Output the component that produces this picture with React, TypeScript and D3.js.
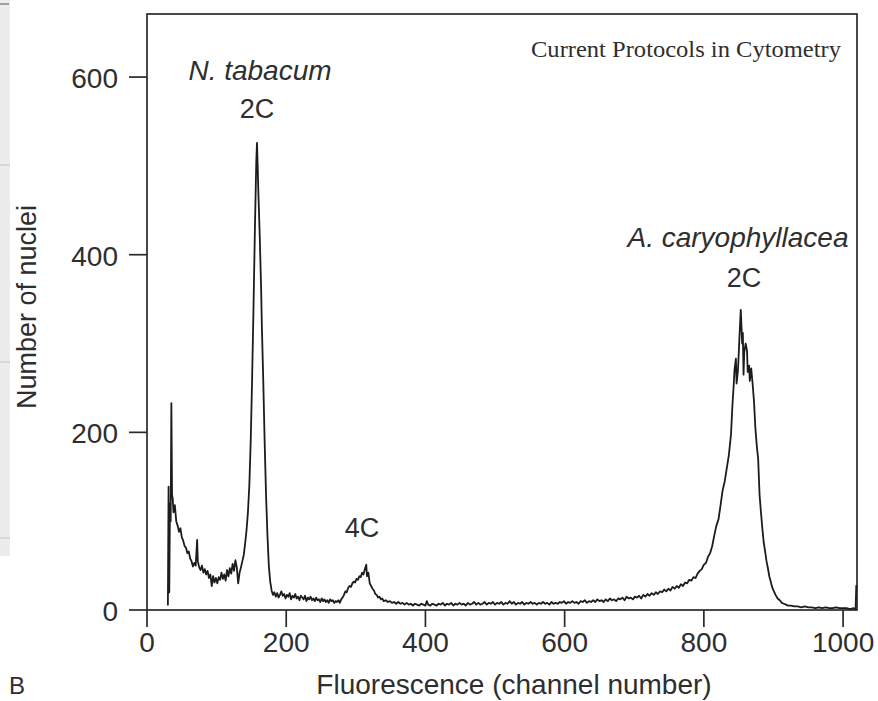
import React from "react";
import * as d3 from "d3";

// Histogram: channel number vs number of nuclei
const channels: number[] = [
  30, 31, 32, 33, 34, 35, 36, 37, 38, 40, 42, 44, 46, 48, 50, 52, 54, 56, 58, 60,
  62, 64, 66, 68, 70, 72, 73, 75, 77, 79, 81, 83, 85, 87, 89, 91, 93, 95, 97, 99,
  101, 103, 105, 107, 109, 111, 113, 115, 117, 119, 121, 123, 125, 127, 129, 131, 133, 135, 137, 139,
  141, 143, 145, 147, 149, 151, 153, 155, 157, 158, 159, 160, 162, 164, 165, 167, 169, 171, 173, 175,
  177, 179, 181, 183, 185, 187, 189, 191, 193, 195, 197, 199, 201, 203, 205, 207, 209, 211, 213, 215,
  217, 219, 221, 223, 225, 227, 229, 231, 233, 235, 237, 239, 241, 243, 245, 247, 249, 251, 253, 255,
  257, 259, 261, 263, 265, 267, 269, 271, 273, 275, 277, 279, 281, 283, 285, 287, 289, 291, 293, 295,
  297, 299, 301, 303, 305, 307, 309, 311, 313, 315, 316, 318, 320, 322, 324, 326, 328, 330, 332, 334,
  336, 338, 340, 343, 346, 349, 352, 355, 358, 361, 364, 367, 370, 373, 376, 379, 382, 385, 388, 391,
  394, 397, 400, 402, 404, 407, 410, 413, 416, 419, 422, 425, 428, 431, 434, 437, 440, 443, 446, 449,
  452, 455, 458, 461, 464, 467, 470, 473, 476, 479, 482, 485, 488, 491, 494, 497, 500, 503, 506, 509,
  512, 515, 518, 521, 524, 527, 530, 533, 536, 539, 542, 545, 548, 551, 554, 557, 560, 563, 566, 569,
  572, 575, 578, 581, 584, 587, 590, 593, 596, 599, 602, 605, 608, 611, 614, 617, 620, 623, 626, 629,
  632, 635, 638, 641, 644, 647, 650, 653, 656, 659, 662, 665, 668, 671, 674, 677, 680, 683, 686, 689,
  692, 695, 698, 701, 704, 707, 710, 713, 716, 719, 722, 725, 728, 731, 734, 737, 740, 743, 746, 749,
  752, 755, 758, 761, 764, 767, 770, 773, 776, 779, 782, 785, 788, 791, 794, 797, 800, 803, 806, 809,
  812, 815, 818, 821, 824, 827, 830, 833, 836, 839, 841, 843, 844, 846, 847, 849, 851, 853, 854, 855,
  856, 857, 858, 860, 862, 863, 865, 866, 868, 870, 872, 874, 876, 878, 880, 882, 884, 886, 888, 890,
  892, 894, 896, 898, 900, 903, 906, 909, 912, 915, 918, 921, 925, 930, 935, 940, 945, 950, 955, 960,
  965, 970, 975, 980, 985, 990, 995, 1000, 1005, 1010, 1015, 1018, 1019,
];

const counts: number[] = [
  5, 139, 20, 120, 100, 233, 130, 125, 110, 118, 100, 95, 88, 92, 82, 78, 72, 70, 64, 66,
  58, 55, 49, 53, 50, 79, 55, 48, 45, 50, 42, 46, 40, 44, 36, 40, 27, 38, 31, 36,
  30, 37, 34, 42, 35, 40, 33, 45, 38, 47, 41, 52, 44, 56, 48, 30, 42, 48, 55, 62,
  75, 90, 110, 140, 190, 260, 340, 428, 505, 526, 500, 470, 420, 360, 320, 259, 190, 130, 85, 50,
  32, 22, 17, 20, 15, 19, 14, 17, 21, 16, 18, 13, 17, 15, 19, 12, 16, 14, 18, 13,
  15, 11, 16, 14, 12, 16, 10, 14, 12, 15, 11, 13, 10, 14, 11, 12, 9, 13, 10, 12,
  9, 11, 8, 12, 10, 11, 8, 10, 9, 11, 8, 12, 14, 17, 21, 20, 25, 27, 26, 30,
  32, 31, 35, 34, 38, 37, 42, 40, 46, 51, 38, 42, 30, 27, 24, 22, 18, 17, 14, 15,
  12, 13, 10, 11, 9, 10, 8, 9, 7, 9, 7, 8, 6, 8, 6, 7, 5, 7, 6, 5,
  7, 6, 5, 10, 6, 5, 7, 6, 5, 7, 6, 8, 5, 7, 6, 8, 5, 7, 6, 8,
  6, 7, 5, 8, 6, 7, 9, 6, 8, 6, 7, 9, 6, 8, 7, 9, 6, 8, 7, 9,
  6, 8, 7, 10, 7, 9, 6, 8, 7, 9, 6, 8, 7, 9, 7, 8, 6, 8, 7, 9,
  7, 8, 6, 9, 7, 8, 7, 9, 8, 10, 7, 9, 8, 10, 8, 9, 7, 10, 9, 11,
  8, 10, 9, 11, 9, 12, 10, 11, 9, 12, 10, 13, 11, 12, 10, 13, 12, 14, 11, 15,
  13, 14, 12, 15, 14, 16, 13, 17, 15, 18, 16, 19, 17, 20, 18, 21, 20, 23, 21, 24,
  22, 26, 24, 27, 25, 29, 27, 31, 30, 34, 33, 37, 36, 41, 44, 46, 51, 53, 60, 64,
  72, 84, 95, 102, 118, 135, 145, 160, 175, 198, 230, 255, 270, 283, 255, 270, 305, 338, 320, 300,
  312, 265, 290, 300, 292, 268, 275, 258, 272, 255, 235, 205, 185, 170, 130, 110, 92, 76, 66, 55,
  47, 38, 32, 26, 22, 17, 13, 11, 8, 7, 6, 5, 5, 4, 4, 3, 4, 3, 3, 2,
  3, 2, 3, 2, 2, 3, 2, 2, 2, 1, 2, 1, 28,
];

const xTicks: number[] = [0, 200, 400, 600, 800, 1000];
const yTicks: number[] = [0, 200, 400, 600];

const xTitle = "Fluorescence (channel number)";
const yTitle = "Number of nuclei";

export default function App() {
  const W = 878;
  const H = 701;
  const left = 147, right = 857, top = 14, bottom = 610;

  const x = d3.scaleLinear().domain([0, 1020]).range([left, right]);
  const y = d3.scaleLinear().domain([0, 671]).range([bottom, top]);

  const pts: [number, number][] = channels.map((c, i) => [c, counts[i]]);
  const line = d3
    .line<[number, number]>()
    .x((d) => x(d[0]))
    .y((d) => y(d[1]));

  const font = "'Liberation Sans', Arial, Helvetica, sans-serif";
  const ink = "#2a2a2a";

  return (
    <svg
      width={W}
      height={H}
      viewBox={`0 0 ${W} ${H}`}
      style={{ position: "absolute", left: 0, top: 0, background: "#fff" }}
    >
      <rect x={0} y={0} width={W} height={H} fill="#fff" />
      {/* page-edge strip at the left */}
      <rect x={0} y={0} width={10} height={556} fill="#ececec" />
      <line x1={0} x2={9} y1={4} y2={4} stroke="#555" strokeWidth={1} />
      <line x1={0} x2={10} y1={165} y2={165} stroke="#b8c4d8" strokeWidth={1} />
      <line x1={0} x2={10} y1={362} y2={362} stroke="#b8c4d8" strokeWidth={1} />
      <line x1={0} x2={10} y1={538} y2={538} stroke="#b8c4d8" strokeWidth={1} />

      {/* frame */}
      <rect
        x={left}
        y={top}
        width={right - left}
        height={bottom - top}
        fill="none"
        stroke={ink}
        strokeWidth={1.7}
      />

      {/* y ticks */}
      {yTicks.map((t) => (
        <g key={"y" + t}>
          <line x1={left - 18} x2={left} y1={y(t)} y2={y(t)} stroke={ink} strokeWidth={1.7} />
          <text
            x={118}
            y={y(t) + 11}
            textAnchor="end"
            fontFamily={font}
            fontSize={28}
            fill="#2e2e2e"
          >
            {t}
          </text>
        </g>
      ))}

      {/* x ticks */}
      {xTicks.map((t) => (
        <g key={"x" + t}>
          <line x1={x(t)} x2={x(t)} y1={bottom} y2={bottom + 17} stroke={ink} strokeWidth={1.7} />
          <text
            x={x(t)}
            y={652}
            textAnchor="middle"
            fontFamily={font}
            fontSize={28}
            fill="#2e2e2e"
          >
            {t}
          </text>
        </g>
      ))}

      {/* data */}
      <path
        d={line(pts) || ""}
        fill="none"
        stroke="#1c1c1c"
        strokeWidth={1.8}
        strokeLinejoin="round"
      />

      {/* axis titles */}
      <text
        x={514}
        y={694}
        textAnchor="middle"
        fontFamily={font}
        fontSize={28}
        fill="#2e2e2e"
      >
        {xTitle}
      </text>
      <text
        transform={`translate(36, 307) rotate(-90)`}
        textAnchor="middle"
        fontFamily={font}
        fontSize={27}
        fill="#2e2e2e"
      >
        {yTitle}
      </text>

      {/* annotations */}
      <text x={260} y={80} textAnchor="middle" fontFamily={font} fontSize={28} fontStyle="italic" fill="#2e2e2e">
        N. tabacum
      </text>
      <text x={257} y={118} textAnchor="middle" fontFamily={font} fontSize={27} fill="#2e2e2e">
        2C
      </text>
      <text x={362} y={537} textAnchor="middle" fontFamily={font} fontSize={27} fill="#2e2e2e">
        4C
      </text>
      <text x={738} y={247} textAnchor="middle" fontFamily={font} fontSize={28} fontStyle="italic" fill="#2e2e2e">
        A. caryophyllacea
      </text>
      <text x={744} y={287} textAnchor="middle" fontFamily={font} fontSize={27} fill="#2e2e2e">
        2C
      </text>

      <text
        x={531}
        y={57}
        fontFamily="'Liberation Serif', 'Times New Roman', serif"
        fontSize={23}
        textLength={310}
        lengthAdjust="spacingAndGlyphs"
        fill="#2e2e2e"
      >
        Current Protocols in Cytometry
      </text>

      {/* panel letter at the bottom-left corner */}
      <text x={9} y={694} fontFamily={font} fontSize={24} fill="#2e2e2e">
        B
      </text>
    </svg>
  );
}
